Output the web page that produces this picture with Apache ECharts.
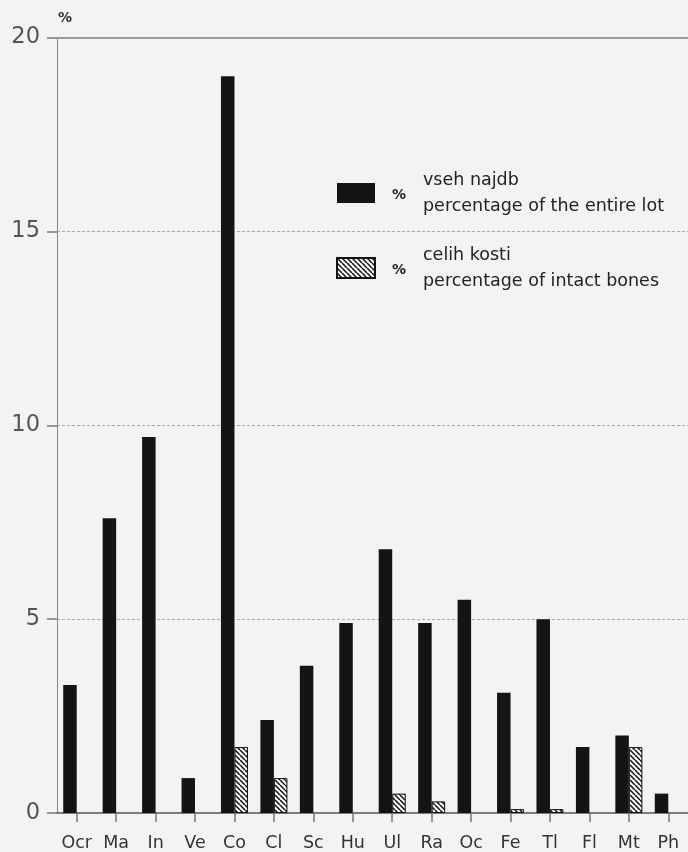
<!DOCTYPE html>
<html>
<head>
<meta charset="utf-8">
<script src="https://cdn.jsdelivr.net/npm/echarts@6/dist/echarts.min.js"></script>
<style>
  html, body { margin: 0; padding: 0; background: #f3f3f3; }
  #chart { width: 688px; height: 852px; }
</style>
</head>
<body>
<div id="chart"></div>
<script>
// Skeletal elements (abbreviations) along the x axis
const categories = ['Ocr', 'Ma', 'In', 'Ve', 'Co', 'Cl', 'Sc', 'Hu', 'Ul', 'Ra', 'Oc', 'Fe', 'Tl', 'Fl', 'Mt', 'Ph'];
// % of the entire lot
const entireLot = [3.3, 7.6, 9.7, 0.9, 19.0, 2.4, 3.8, 4.9, 6.8, 4.9, 5.5, 3.1, 5.0, 1.7, 2.0, 0.5];
// % of intact bones (null = none)
const intactBones = [null, null, null, null, 1.7, 0.9, null, null, 0.5, 0.3, null, 0.1, 0.1, null, 1.7, null];
const yTicks = [0, 5, 10, 15, 20];

const seriesNames = ['vseh najdb', 'celih kosti'];
const seriesSubtitles = ['percentage of the entire lot', 'percentage of intact bones'];

// Diagonal hatch pattern for the intact-bones bars
function makeHatch() {
  const s = 5;
  const c = document.createElement('canvas');
  c.width = s; c.height = s;
  const g = c.getContext('2d');
  g.fillStyle = '#f7f7f7';
  g.fillRect(0, 0, s, s);
  g.strokeStyle = '#111';
  g.lineWidth = 1.5;
  for (const k of [-s, 0, s]) {
    g.beginPath();
    g.moveTo(k, 0);
    g.lineTo(k + s, s);
    g.stroke();
  }
  return c;
}

const font = '"DejaVu Sans", sans-serif';
const chart = echarts.init(document.getElementById('chart'), null, { renderer: 'canvas' });

chart.setOption({
  backgroundColor: '#f3f3f3',
  animation: false,
  grid: { left: 57, top: 37.5, bottom: 39, width: 634 },
  legend: {
    orient: 'vertical',
    left: 336, top: 171,
    padding: 0,
    itemWidth: 38, itemHeight: 20, itemGap: 31,
    icon: 'rect',
    data: seriesNames,
    formatter: name => {
      const i = seriesNames.indexOf(name);
      return '{sp|}{t|' + name + '}\n{sp|}{t|' + seriesSubtitles[i] + '}';
    },
    textStyle: {
      rich: {
        sp: { width: 43 },
        t: { fontFamily: font, fontSize: 17.5, color: '#222', lineHeight: 26 }
      }
    }
  },
  graphic: [
    { type: 'text', left: 392, top: 188, style: { text: '%', font: 'bold 14px ' + font, fill: '#222' } },
    { type: 'text', left: 392, top: 263, style: { text: '%', font: 'bold 14px ' + font, fill: '#222' } }
  ],
  xAxis: {
    type: 'category',
    data: categories,
    boundaryGap: true,
    axisLine: { show: true, lineStyle: { color: '#555', width: 1.5 } },
    axisTick: { show: true, alignWithLabel: true, length: 9, lineStyle: { color: '#777', width: 1.5 } },
    axisLabel: { interval: 0, margin: 21, fontFamily: font, fontSize: 17.5, color: '#333' }
  },
  yAxis: {
    type: 'value',
    min: yTicks[0], max: yTicks[yTicks.length - 1], interval: 5,
    name: '%',
    nameLocation: 'end',
    nameGap: 12,
    nameTextStyle: { align: 'left', fontFamily: font, fontSize: 14, fontWeight: 'bold', color: '#333', padding: [0, 0, 0, 1] },
    axisLine: { show: true, lineStyle: { color: '#888', width: 1 } },
    axisTick: { show: true, inside: false, length: 10, lineStyle: { color: '#777', width: 1.5 } },
    axisLabel: { margin: 17, fontFamily: font, fontSize: 22.5, color: '#555' },
    splitLine: {
      show: true, showMinLine: false, showMaxLine: false,
      lineStyle: { color: '#aaa', type: [3, 2], width: 1 }
    }
  },
  series: [
    {
      name: seriesNames[0],
      type: 'bar',
      data: entireLot,
      barWidth: 13.5,
      barGap: '0%',
      itemStyle: { color: '#141414' },
      // solid frame line along the top of the scale
      markLine: {
        silent: true,
        symbol: 'none',
        label: { show: false },
        lineStyle: { color: '#9a9a9a', type: 'solid', width: 2 },
        data: [{ yAxis: yTicks[yTicks.length - 1] }]
      }
    },
    {
      name: seriesNames[1],
      type: 'bar',
      data: intactBones,
      barWidth: 13.5,
      itemStyle: {
        color: { image: makeHatch(), repeat: 'repeat' },
        borderColor: '#111',
        borderWidth: 1
      }
    }
  ]
});
</script>
</body>
</html>
